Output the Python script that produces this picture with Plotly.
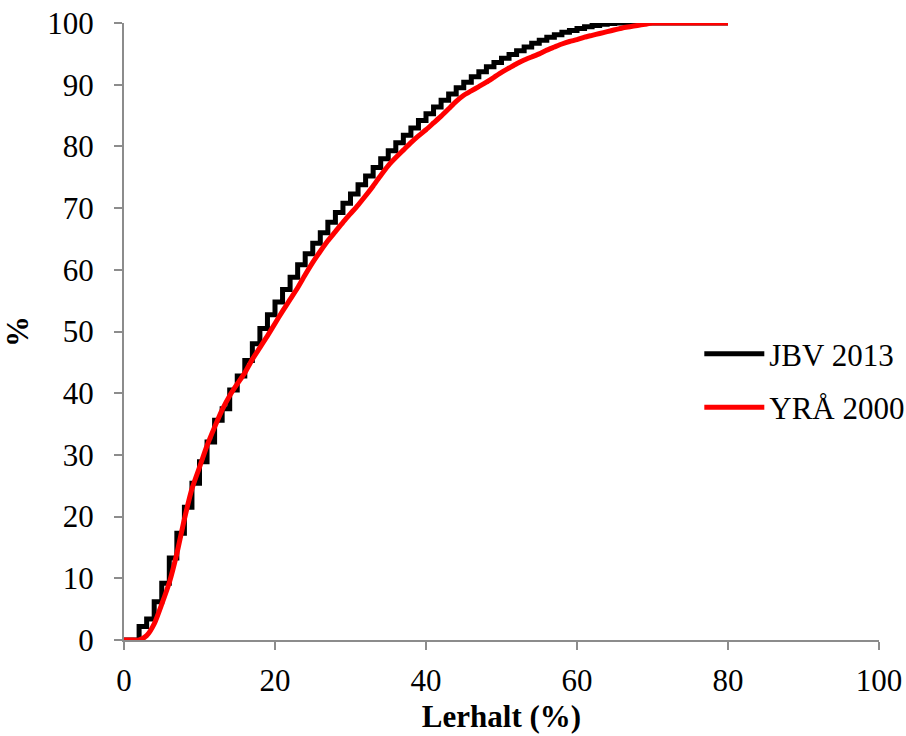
import plotly.graph_objects as go

# Data
jbv_x = list(range(0, 81))
jbv_y = [0, 0, 2.2, 3.4, 6.2, 9.2, 13.3, 17.3, 21.5, 25.4,
         28.9, 32.1, 35.6, 37.5, 40.5, 42.8, 45.3, 48.0, 50.5, 52.7,
         54.8, 56.8, 58.8, 60.8, 62.6, 64.3, 66.0, 67.7, 69.3, 70.8,
         72.3, 73.8, 75.2, 76.6, 78.0, 79.3, 80.6, 81.8, 83.0, 84.2,
         85.3, 86.4, 87.5, 88.5, 89.5, 90.4, 91.3, 92.1, 92.9, 93.6,
         94.3, 94.9, 95.5, 96.1, 96.7, 97.2, 97.7, 98.1, 98.5, 98.8,
         99.1, 99.4, 99.6, 99.8, 99.9, 100, 100, 100, 100, 100,
         100, 100, 100, 100, 100, 100, 100, 100, 100, 100, 100]

yra_x = list(range(0, 81))
yra_y = [0, 0, 0, 0.7, 2.6, 5.8, 9.3, 14.0, 19.6, 24.5,
         28.0, 31.5, 34.5, 37.3, 39.6, 41.5, 43.3, 45.5, 47.4, 49.3,
         51.3, 53.3, 55.2, 57.1, 59.2, 61.2, 63.0, 64.7, 66.2, 67.7,
         69.1, 70.5, 72.0, 73.6, 75.3, 76.9, 78.2, 79.4, 80.6, 81.7,
         82.7, 83.8, 84.9, 86.1, 87.3, 88.3, 89.0, 89.7, 90.4, 91.2,
         92.0, 92.7, 93.4, 94.0, 94.5, 95.0, 95.6, 96.1, 96.6, 97.0,
         97.3, 97.7, 98.0, 98.3, 98.6, 98.9, 99.2, 99.4, 99.6, 99.8,
         100, 100, 100, 100, 100, 100, 100, 100, 100, 100, 100]

x_ticks = [0, 20, 40, 60, 80, 100]
y_ticks = [0, 10, 20, 30, 40, 50, 60, 70, 80, 90, 100]

FONT = "Liberation Serif, Times New Roman, serif"
AX = "#8c8c8c"

fig = go.Figure()
fig.add_trace(go.Scatter(x=jbv_x, y=jbv_y, mode="lines", name="JBV 2013",
                         legendgroup="a",
                         line=dict(color="black", width=5, shape="hv")))
fig.add_trace(go.Scatter(x=yra_x, y=yra_y, mode="lines", name="YRÅ 2000",
                         legendgroup="b",
                         line=dict(color="#ff0000", width=5, shape="spline", smoothing=0.6)))

fig.update_layout(
    width=906, height=736,
    margin=dict(l=124, r=27, t=23, b=96, autoexpand=False),
    paper_bgcolor="white", plot_bgcolor="white",
    font=dict(family=FONT, size=31, color="black"),
    showlegend=True,
    legend=dict(x=0.762, y=0.507, xanchor="left", yanchor="top",
                bgcolor="rgba(0,0,0,0)", itemwidth=60,
                traceorder="grouped", tracegroupgap=10,
                font=dict(family=FONT, size=31)),
    xaxis=dict(range=[0, 100], tickvals=x_ticks, ticktext=[str(v) for v in x_ticks],
               automargin=False, ticklabelstandoff=4, ticklabeloverflow="allow",
               showline=True, linecolor=AX, linewidth=2, ticks="outside",
               ticklen=8, tickwidth=2, tickcolor=AX, showgrid=False, zeroline=False,
               title=dict(text="<b>Lerhalt (%)</b>", standoff=8,
                          font=dict(family=FONT, size=31))),
    yaxis=dict(range=[0, 100], tickvals=y_ticks, ticktext=[str(v) for v in y_ticks],
               automargin=False, ticklabelstandoff=14, ticklabeloverflow="allow",
               showline=True, linecolor=AX, linewidth=2, ticks="outside",
               ticklen=8, tickwidth=2, tickcolor=AX, showgrid=False, zeroline=False,
               title=dict(text="<b>%</b>", standoff=12,
                          font=dict(family=FONT, size=31))),
)

fig.write_html("out.html",
               config={"displayModeBar": False},
               post_script="document.body.style.margin='0';document.body.style.overflow='hidden';")
